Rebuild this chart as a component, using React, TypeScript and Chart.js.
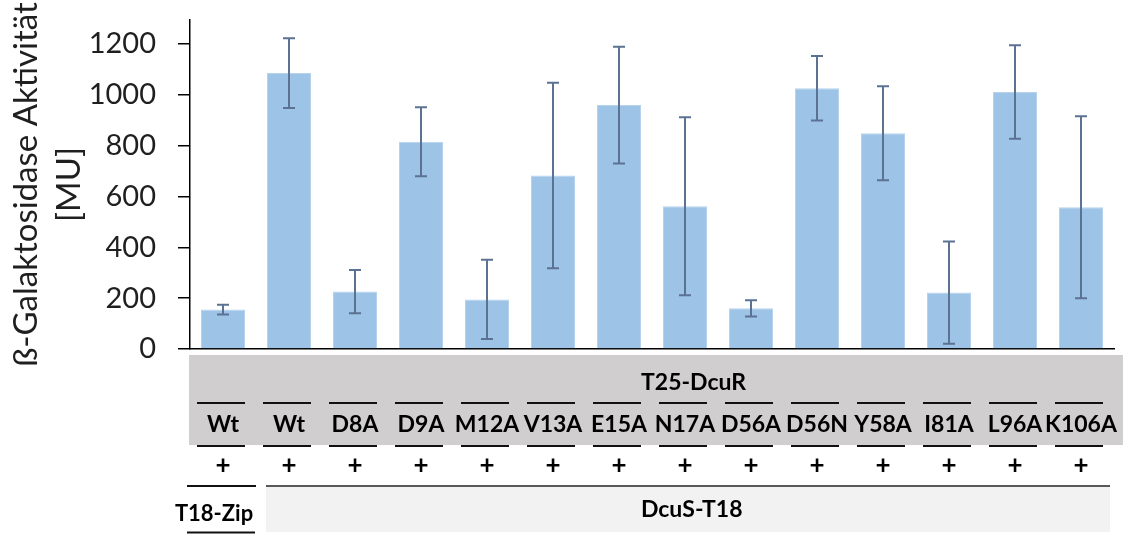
import React, { useEffect, useRef } from 'react';
import { Chart, registerables } from 'chart.js';

Chart.register(...registerables);

const categories = ['Wt', 'Wt', 'D8A', 'D9A', 'M12A', 'V13A', 'E15A', 'N17A', 'D56A', 'D56N', 'Y58A', 'I81A', 'L96A', 'K106A'];
const values = [155, 1086, 226, 816, 195, 683, 960, 562, 160, 1026, 849, 222, 1012, 558];
const errors = [19, 137, 85, 136, 156, 365, 230, 350, 32, 127, 185, 201, 184, 358];
const yTickValues = [0, 200, 400, 600, 800, 1000, 1200];
const plusRow = ['+', '+', '+', '+', '+', '+', '+', '+', '+', '+', '+', '+', '+', '+'];
const yTitle = ['ß-Galaktosidase Aktivität', '[MU]'];
const rowTitle = 'T25-DcuR';
const controlLabel = 'T18-Zip';
const groupLabel = 'DcuS-T18';

const FONT = 'Lato, "Open Sans", sans-serif';
const BAR_COLOR = '#9DC3E6';
const ERR_COLOR = '#5B7293';

const errorBarPlugin = {
  id: 'errorBars',
  afterDatasetsDraw(chart: any) {
    const { ctx } = chart;
    const meta = chart.getDatasetMeta(0);
    const y = chart.scales.y;
    ctx.save();
    ctx.strokeStyle = ERR_COLOR;
    ctx.lineWidth = 2;
    meta.data.forEach((bar: any, i: number) => {
      const x = bar.x;
      const top = y.getPixelForValue(values[i] + errors[i]);
      const bot = y.getPixelForValue(values[i] - errors[i]);
      ctx.beginPath();
      ctx.moveTo(x, top);
      ctx.lineTo(x, bot);
      ctx.moveTo(x - 6, top);
      ctx.lineTo(x + 6, top);
      ctx.moveTo(x - 6, bot);
      ctx.lineTo(x + 6, bot);
      ctx.stroke();
    });
    ctx.restore();
  },
};

const tablePlugin = {
  id: 'tableRows',
  beforeDraw(chart: any) {
    const { ctx, chartArea, width } = chart;
    const b = chartArea.bottom;
    ctx.save();
    ctx.fillStyle = '#D0CECE';
    ctx.fillRect(chartArea.left - 1, b + 6, width - 3 - (chartArea.left - 1), 90);
    ctx.fillStyle = '#F2F2F2';
    ctx.fillRect(266, b + 138, chartArea.right - 4 - 266, 45);
    ctx.restore();
  },
  afterDraw(chart: any) {
    const { ctx, chartArea } = chart;
    const x = chart.scales.x;
    const b = chartArea.bottom;
    const w = chartArea.right - chartArea.left;
    ctx.save();
    ctx.strokeStyle = '#111';
    ctx.lineWidth = 2;
    categories.forEach((_, i) => {
      const cx = x.getPixelForValue(i) - 2;
      ctx.beginPath();
      ctx.moveTo(cx - 24, b + 54);
      ctx.lineTo(cx + 24, b + 54);
      ctx.moveTo(cx - 24, b + 97);
      ctx.lineTo(cx + 24, b + 97);
      ctx.stroke();
    });
    ctx.fillStyle = '#000';
    ctx.textAlign = 'center';
    ctx.textBaseline = 'middle';
    ctx.font = `bold 26px ${FONT}`;
    plusRow.forEach((p, i) => {
      ctx.fillText(p, x.getPixelForValue(i), b + 117);
    });
    ctx.font = `bold 23px ${FONT}`;
    ctx.fillText(rowTitle, chartArea.left + w * 0.545, b + 34);
    ctx.fillText(groupLabel, chartArea.left + w * 0.543, b + 161);
    ctx.font = `bold 22px ${FONT}`;
    ctx.fillText(controlLabel, x.getPixelForValue(0) - 9, b + 165);
    ctx.lineWidth = 1.3;
    ctx.strokeStyle = '#222';
    ctx.beginPath();
    ctx.moveTo(266, b + 137);
    ctx.lineTo(chartArea.right - 4, b + 137);
    ctx.stroke();
    ctx.lineWidth = 2;
    ctx.strokeStyle = '#111';
    ctx.beginPath();
    ctx.moveTo(chartArea.left - 3, b + 137);
    ctx.lineTo(256, b + 137);
    ctx.moveTo(chartArea.left - 3, b + 183.5);
    ctx.lineTo(255, b + 183.5);
    ctx.stroke();
    ctx.restore();
  },
};

export default function App() {
  const ref = useRef<HTMLCanvasElement | null>(null);
  useEffect(() => {
    if (!ref.current) return;
    const chart = new Chart(ref.current, {
      type: 'bar',
      data: {
        labels: categories,
        datasets: [
          {
            data: values,
            backgroundColor: BAR_COLOR,
            borderColor: '#B6D3EE',
            borderWidth: 1,
            barPercentage: 0.667,
            categoryPercentage: 1,
          },
        ],
      },
      options: {
        animation: false,
        responsive: false,
        maintainAspectRatio: false,
        layout: { padding: { top: 20, right: 12, left: 0, bottom: 0 } },
        plugins: { legend: { display: false }, tooltip: { enabled: false } },
        scales: {
          x: {
            grid: { display: false, drawTicks: false },
            border: { display: true, color: '#000', width: 1.5 },
            ticks: {
              font: { family: FONT, size: 23, weight: 'bold' },
              color: '#000',
              padding: 62,
              maxRotation: 0,
              autoSkip: false,
            },
            afterFit(s: any) {
              s.height = 185;
              s.paddingLeft = 0;
              s.paddingRight = 0;
            },
          },
          y: {
            min: 0,
            max: 1295,
            afterBuildTicks(s: any) {
              s.ticks = yTickValues.map((v) => ({ value: v }));
            },
            grid: { drawOnChartArea: false, drawTicks: true, tickLength: 12, color: '#000', lineWidth: 1.5 },
            border: { display: true, color: '#000', width: 1.5 },
            ticks: {
              font: { family: FONT, size: 29 },
              color: '#1f1f1f',
              padding: 22,
              callback: (v: any) => String(v),
            },
            title: {
              display: true,
              text: yTitle,
              color: '#1f1f1f',
              font: { family: FONT, size: 33, lineHeight: 1.3 },
              padding: { top: 5, bottom: 0 },
            },
            afterFit(s: any) {
              s.width = 190;
              s.paddingTop = 0;
              s.paddingBottom = 0;
            },
          },
        },
      },
      plugins: [tablePlugin, errorBarPlugin],
    } as any);
    return () => chart.destroy();
  }, []);
  return (
    <div style={{ position: 'absolute', left: 0, top: 0, width: 1126, height: 534, background: '#fff' }}>
      <canvas ref={ref} width={1126} height={534} style={{ width: 1126, height: 534 }} />
    </div>
  );
}
